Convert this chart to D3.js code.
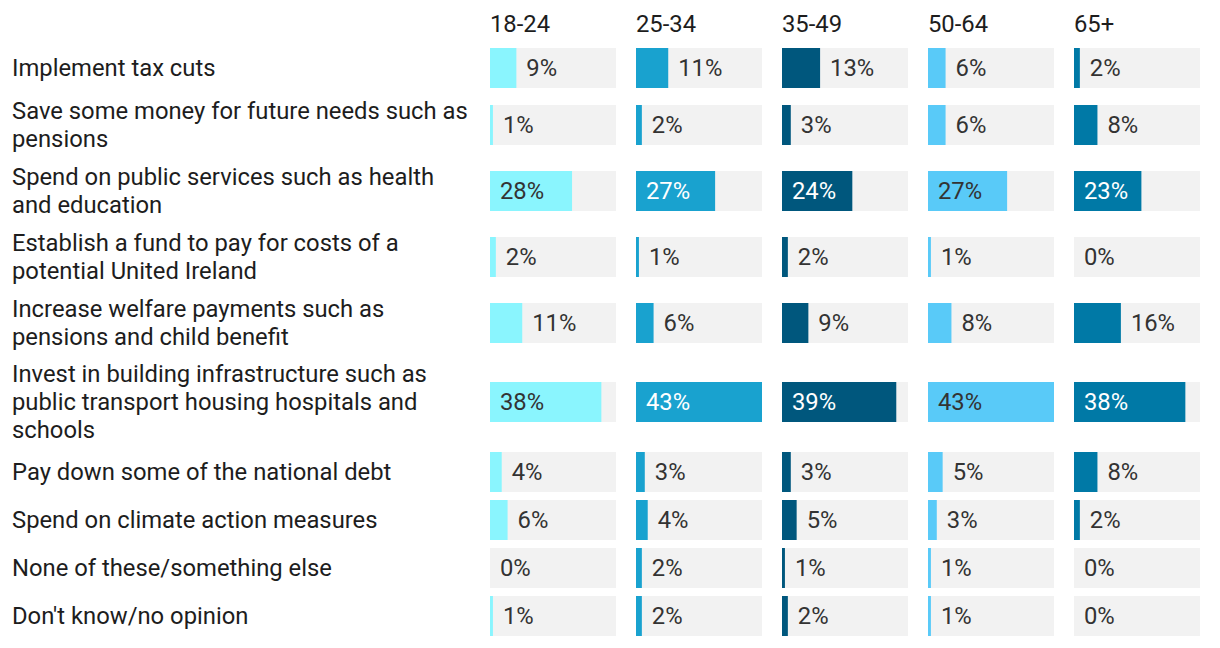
<!DOCTYPE html>
<html>
<head>
<meta charset="utf-8">
<script src="https://cdn.jsdelivr.net/npm/d3@7"></script>
<style>
  html, body { margin: 0; padding: 0; background: #ffffff; }
  svg { display: block; font-family: Roboto, "Noto Sans", sans-serif; }
</style>
</head>
<body>
<svg id="chart" width="1220" height="648"></svg>
<script>
const categories = [
  "Implement tax cuts",
  "Save some money for future needs such as pensions",
  "Spend on public services such as health and education",
  "Establish a fund to pay for costs of a potential United Ireland",
  "Increase welfare payments such as pensions and child benefit",
  "Invest in building infrastructure such as public transport housing hospitals and schools",
  "Pay down some of the national debt",
  "Spend on climate action measures",
  "None of these/something else",
  "Don't know/no opinion"
];
const groups = ["18-24", "25-34", "35-49", "50-64", "65+"];
const v18_24 = [9, 1, 28, 2, 11, 38, 4, 6, 0, 1];
const v25_34 = [11, 2, 27, 1, 6, 43, 3, 4, 2, 2];
const v35_49 = [13, 3, 24, 2, 9, 39, 3, 5, 1, 2];
const v50_64 = [6, 6, 27, 1, 8, 43, 5, 3, 1, 1];
const v65plus = [2, 8, 23, 0, 16, 38, 8, 2, 0, 0];
const seriesValues = [v18_24, v25_34, v35_49, v50_64, v65plus];
const groupColors = ["#8af5fe", "#19a2cf", "#00577d", "#59caf8", "#0079a6"];
const labelOnDark = [false, true, true, false, true];

const svg = d3.select("#chart");
const fontSize = 23.8;
const lineH = 28;
const labelX = 12;
const labelMaxW = 466;
const colStart = 490, colW = 126, colStep = 146;
const barH = 40, gap = 8, firstTop = 48;

// wrap labels
const measure = svg.append("text").attr("font-size", fontSize).attr("visibility", "hidden");
function wrap(str) {
  const words = str.split(" ");
  const lines = [];
  let cur = "";
  words.forEach(w => {
    const t = cur ? cur + " " + w : w;
    measure.text(t);
    if (measure.node().getComputedTextLength() > labelMaxW && cur) {
      lines.push(cur); cur = w;
    } else cur = t;
  });
  if (cur) lines.push(cur);
  return lines;
}
const wrapped = categories.map(wrap);
measure.remove();

// row layout
const rowH = wrapped.map(l => Math.max(barH, l.length * 26 + 6));
const centers = [];
let yy = firstTop;
rowH.forEach((h, i) => { centers.push(yy + h / 2); yy += h + gap; });

const maxVal = d3.max(seriesValues.flat());
const x = d3.scaleLinear().domain([0, maxVal]).range([0, colW]);
const colX = d3.scaleBand().domain(groups).range([colStart, colStart + colStep * groups.length]).paddingInner(0).paddingOuter(0);

// labels
const capH = fontSize * 0.711;
categories.forEach((c, i) => {
  const lines = wrapped[i];
  const first = centers[i] - (lines.length - 1) * lineH / 2 + capH / 2;
  const t = svg.append("text").attr("x", labelX).attr("font-size", fontSize).attr("fill", "#1d1d1d");
  lines.forEach((ln, k) => {
    t.append("tspan").attr("x", labelX).attr("y", first + k * lineH).text(ln);
  });
});

// headers
svg.selectAll("text.hdr").data(groups).join("text")
  .attr("class", "hdr")
  .attr("x", d => colX(d))
  .attr("y", 32)
  .attr("font-size", fontSize)
  .attr("fill", "#1d1d1d")
  .text(d => d);

groups.forEach((g, gi) => {
  const gx = colX(g);
  const vals = seriesValues[gi];
  const gsel = svg.append("g").attr("transform", `translate(${gx},0)`);
  gsel.selectAll("rect.bg").data(vals).join("rect")
    .attr("class", "bg")
    .attr("x", 0).attr("y", (d, i) => centers[i] - barH / 2)
    .attr("width", colW).attr("height", barH).attr("fill", "#f2f2f2");
  gsel.selectAll("rect.bar").data(vals).join("rect")
    .attr("class", "bar")
    .attr("x", 0).attr("y", (d, i) => centers[i] - barH / 2)
    .attr("width", d => x(d)).attr("height", barH).attr("fill", groupColors[gi]);
  gsel.selectAll("text.val").data(vals).join("text")
    .attr("class", "val")
    .attr("font-size", fontSize)
    .attr("y", (d, i) => centers[i] + capH / 2)
    .text(d => d + "%")
    .each(function(d) {
      const tw = this.getComputedTextLength();
      const inside = x(d) >= tw + 20;
      d3.select(this)
        .attr("x", inside ? 10 : x(d) + 10)
        .attr("fill", inside && labelOnDark[gi] ? "#ffffff" : "#333333");
    });
});
</script>
</body>
</html>
